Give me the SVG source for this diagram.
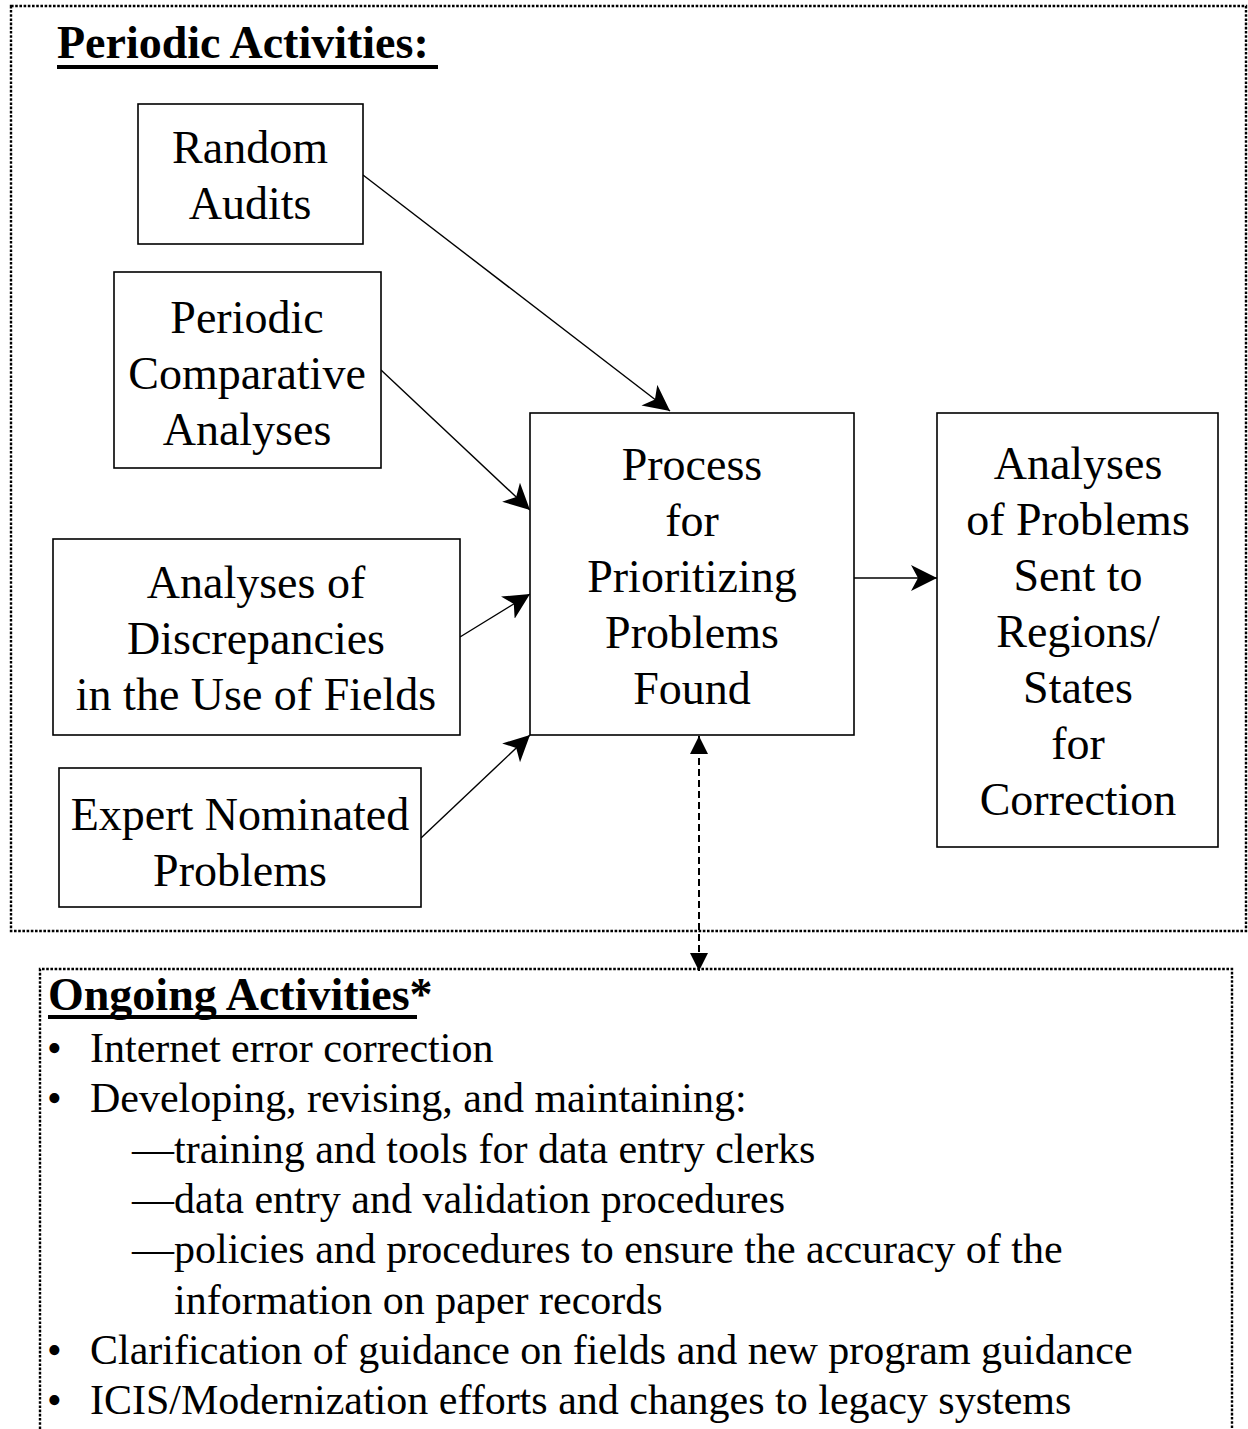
<svg xmlns="http://www.w3.org/2000/svg" width="1248" height="1429" viewBox="0 0 1248 1429">
<style>
.t{font-family:"Liberation Serif","Times New Roman",serif;font-size:46px;fill:#000;text-anchor:middle}
.h{font-family:"Liberation Serif","Times New Roman",serif;font-size:46px;font-weight:bold;fill:#000}
.l{font-family:"Liberation Serif","Times New Roman",serif;font-size:42px;fill:#000}
.box{fill:#fff;stroke:#000;stroke-width:1.6}
.dot{fill:none;stroke:#000;stroke-width:2.4;stroke-dasharray:2.6 1.6}
.con{fill:none;stroke:#000;stroke-width:1.4}
</style>
<defs>
<marker id="ah" markerUnits="userSpaceOnUse" markerWidth="28" markerHeight="28" refX="26" refY="13" orient="auto">
<path d="M26,13 L0,0 L7,13 L0,26 z" fill="#000"/>
</marker>
<marker id="tri" markerUnits="userSpaceOnUse" markerWidth="20" markerHeight="20" refX="18" refY="9" orient="auto-start-reverse">
<path d="M18,9 L0,0 L0,18 z" fill="#000"/>
</marker>
</defs>
<rect width="1248" height="1429" fill="#fff"/>
<g id="periodic-frame">
<rect class="dot" x="11" y="6" width="1235" height="925"/>
<text class="h" x="57" y="58">Periodic Activities:</text>
<rect x="57" y="65" width="381" height="4" fill="#000"/>
</g>
<g id="ongoing-frame">
<path class="dot" d="M40,1429 L40,969 L1232,969 L1232,1429"/>
<text class="h" x="48" y="1010">Ongoing Activities*</text>
<rect x="48" y="1015" width="369" height="4" fill="#000"/>
<g class="l">
<text x="47" y="1062">•</text><text x="90" y="1062">Internet error correction</text>
<text x="47" y="1112">•</text><text x="90" y="1112">Developing, revising, and maintaining:</text>
<text x="132" y="1163">—training and tools for data entry clerks</text>
<text x="132" y="1213">—data entry and validation procedures</text>
<text x="132" y="1263">—policies and procedures to ensure the accuracy of the</text>
<text x="174" y="1314">information on paper records</text>
<text x="47" y="1364">•</text><text x="90" y="1364">Clarification of guidance on fields and new program guidance</text>
<text x="47" y="1414">•</text><text x="90" y="1414">ICIS/Modernization efforts and changes to legacy systems</text>
</g>
</g>
<g id="connectors">
<line class="con" x1="363" y1="175" x2="670" y2="411" marker-end="url(#ah)"/>
<line class="con" x1="381" y1="370" x2="530" y2="510" marker-end="url(#ah)"/>
<line class="con" x1="460" y1="637" x2="530" y2="594" marker-end="url(#ah)"/>
<line class="con" x1="421" y1="838" x2="530" y2="735" marker-end="url(#ah)"/>
<line class="con" x1="854" y1="578" x2="937" y2="578" marker-end="url(#ah)"/>
<line x1="699" y1="736" x2="699" y2="971" stroke="#000" stroke-width="2" stroke-dasharray="7 4" marker-start="url(#tri)" marker-end="url(#tri)"/>
</g>
<g id="random-audits">
<rect class="box" x="138" y="104" width="225" height="140"/>
<text class="t" x="250" y="163">Random</text>
<text class="t" x="250" y="219">Audits</text>
</g>
<g id="periodic-comparative">
<rect class="box" x="114" y="272" width="267" height="196"/>
<text class="t" x="247" y="333">Periodic</text>
<text class="t" x="247" y="389">Comparative</text>
<text class="t" x="247" y="445">Analyses</text>
</g>
<g id="analyses-discrepancies">
<rect class="box" x="53" y="539" width="407" height="196"/>
<text class="t" x="256" y="598">Analyses of</text>
<text class="t" x="256" y="654">Discrepancies</text>
<text class="t" x="256" y="710">in the Use of Fields</text>
</g>
<g id="expert-nominated">
<rect class="box" x="59" y="768" width="362" height="139"/>
<text class="t" x="240" y="830">Expert Nominated</text>
<text class="t" x="240" y="886">Problems</text>
</g>
<g id="process">
<rect class="box" x="530" y="413" width="324" height="322"/>
<text class="t" x="692" y="480">Process</text>
<text class="t" x="692" y="536">for</text>
<text class="t" x="692" y="592">Prioritizing</text>
<text class="t" x="692" y="648">Problems</text>
<text class="t" x="692" y="704">Found</text>
</g>
<g id="analyses-problems">
<rect class="box" x="937" y="413" width="281" height="434"/>
<text class="t" x="1078" y="479">Analyses</text>
<text class="t" x="1078" y="535">of Problems</text>
<text class="t" x="1078" y="591">Sent to</text>
<text class="t" x="1078" y="647">Regions/</text>
<text class="t" x="1078" y="703">States</text>
<text class="t" x="1078" y="759">for</text>
<text class="t" x="1078" y="815">Correction</text>
</g>
</svg>
